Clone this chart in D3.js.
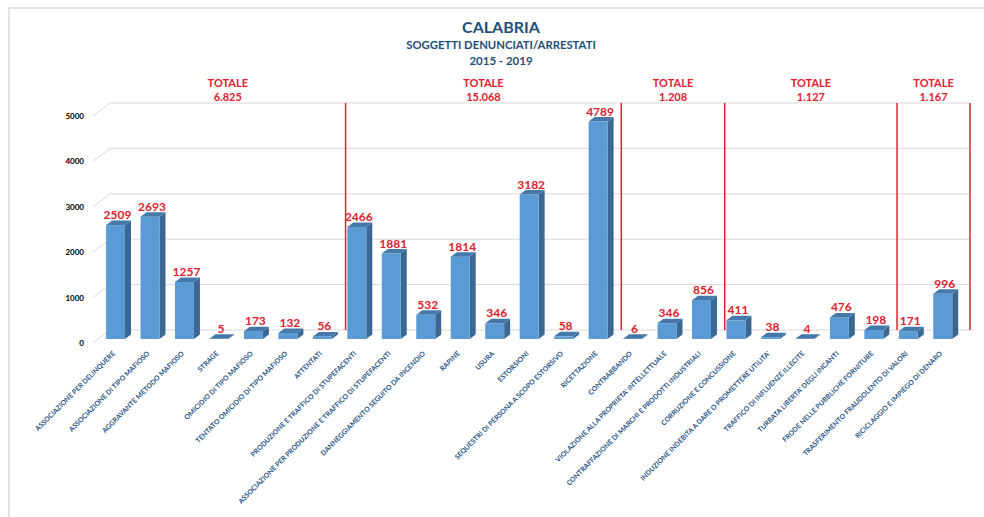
<!DOCTYPE html>
<html><head><meta charset="utf-8">
<script src="https://cdn.jsdelivr.net/npm/d3@7"></script>
<style>body{margin:0;background:#fff}svg{display:block}text{font-family:Lato,"Open Sans",sans-serif}</style>
</head><body>
<script>
const categories = [
 "ASSOCIAZIONE PER DELINQUERE","ASSOCIAZIONE DI TIPO MAFIOSO","AGGRAVANTE METODO MAFIOSO","STRAGE",
 "OMICIDIO DI TIPO MAFIOSO","TENTATO OMICIDIO DI TIPO MAFIOSO","ATTENTATI",
 "PRODUZIONE E TRAFFICO DI STUPEFACENTI","ASSOCIAZIONE PER PRODUZIONE E TRAFFICO DI STUPEFACENTI",
 "DANNEGGIAMENTO SEGUITO DA INCENDIO","RAPINE","USURA","ESTORSIONI","SEQUESTRI DI PERSONA A SCOPO ESTORSIVO","RICETTAZIONE",
 "CONTRABBANDO","VIOLAZIONE ALLA PROPRIETA' INTELLETTUALE","CONTRAFFAZIONE DI MARCHI E PRODOTTI INDUSTRIALI",
 "CORRUZIONE E CONCUSSIONE","INDUZIONE INDEBITA A DARE O PROMETTERE UTILITA'","TRAFFICO DI INFLUENZE ILLECITE",
 "TURBATA LIBERTA' DEGLI INCANTI","FRODE NELLE PUBBLICHE FORNITURE",
 "TRASFERIMENTO FRAUDOLENTO DI VALORI","RICICLAGGIO E IMPIEGO DI DENARO"
];
const values = [2509,2693,1257,5,173,132,56, 2466,1881,532,1814,346,3182,58,4789, 6,346,856, 411,38,4,476,198, 171,996];
const groupSizes = [7,8,3,5,2];
const groupTotals = ["6.825","15.068","1.208","1.127","1.167"];
const yTicks = [0,1000,2000,3000,4000,5000];
const titleLines = ["CALABRIA","SOGGETTI DENUNCIATI/ARRESTATI","2015 - 2019"];

const W=984,H=517;
const svg=d3.select("body").append("svg").attr("width",W).attr("height",H);
// frame
svg.append("rect").attr("x",9).attr("y",8).attr("width",W).attr("height",H).attr("fill","none").attr("stroke","#D9D9D9").attr("stroke-width",1.5);

const x=d3.scaleBand().domain(categories).range([98.3,960]).paddingInner(0.45).paddingOuter(0.225);
const y=d3.scaleLinear().domain([0,5000]).range([339,112]);
const bw=x.bandwidth();
const wallDx=17, backDy=9, frontDy=4;
const gridL=110, gridR=970;
const ddx=6, ddy=4.5; // bar depth

// gridlines
const g=svg.append("g");
yTicks.forEach(v=>{
  const yb=y(v)-backDy;
  g.append("line").attr("x1",gridL).attr("x2",gridR).attr("y1",yb).attr("y2",yb).attr("stroke","#D9D9D9").attr("stroke-width",1);
  g.append("line").attr("x1",gridL-wallDx).attr("y1",y(v)+frontDy).attr("x2",gridL).attr("y2",yb).attr("stroke","#D9D9D9").attr("stroke-width",1);
  svg.append("text").attr("x",84).attr("y",y(v)+frontDy+3).attr("text-anchor","end")
    .attr("font-size",8).attr("font-weight","bold").attr("fill","#000").text(v);
});

// separators & totals
const red="#E0202E";
let idx=0; const seps=[gridL];
groupSizes.forEach((n,gi)=>{
  idx+=n;
  let sx;
  if(idx<categories.length){
    sx=(x(categories[idx-1])+bw+x(categories[idx]))/2+6;
  } else sx=gridR;
  seps.push(sx);
  svg.append("line").attr("x1",sx).attr("x2",sx).attr("y1",y(5000)-backDy).attr("y2",y(0)-backDy)
    .attr("stroke",red).attr("stroke-width",1.5);
});
groupTotals.forEach((t,gi)=>{
  const cx=(seps[gi]+seps[gi+1])/2;
  svg.append("text").attr("x",cx).attr("y",87).attr("text-anchor","middle").attr("font-size",11).attr("font-weight","bold").attr("fill",red).text("TOTALE");
  svg.append("text").attr("x",cx).attr("y",101).attr("text-anchor","middle").attr("font-size",11).attr("font-weight","bold").attr("fill",red).text(t);
});

// bars
const bars=svg.append("g");
categories.forEach((c,i)=>{
  const v=values[i], x0=x(c), yt=y(v), yb=y(0);
  // side
  bars.append("path").attr("d",`M${x0+bw},${yb}L${x0+bw+ddx},${yb-ddy}L${x0+bw+ddx},${yt-ddy}L${x0+bw},${yt}Z`).attr("fill","#3A6892");
  // front
  bars.append("rect").attr("x",x0).attr("y",yt).attr("width",bw).attr("height",Math.max(0,yb-yt)).attr("fill","#5B9BD5");
  // top
  bars.append("path").attr("d",`M${x0},${yt}L${x0+ddx},${yt-ddy}L${x0+bw+ddx},${yt-ddy}L${x0+bw},${yt}Z`).attr("fill","#4679AA");
  // value label
  svg.append("text").attr("x",x0+bw/2+2).attr("y",yt-ddy-1.5).attr("text-anchor","middle")
    .attr("font-size",12).attr("font-weight","bold").attr("fill",red).text(v);
  // category label
  svg.append("text").attr("transform",`translate(${x0+bw/2},354) rotate(-45)`).attr("text-anchor","end")
    .attr("font-size",6.9).attr("font-weight","bold").attr("fill","#23507F").text(c);
});

// titles
const tc=501;
svg.append("text").attr("x",tc).attr("y",33).attr("text-anchor","middle").attr("font-size",16).attr("font-weight","bold").attr("fill","#1F4E79").text(titleLines[0]);
svg.append("text").attr("x",tc).attr("y",49).attr("text-anchor","middle").attr("font-size",11.3).attr("font-weight","bold").attr("fill","#1F4E79").text(titleLines[1]);
svg.append("text").attr("x",tc).attr("y",65).attr("text-anchor","middle").attr("font-size",11.5).attr("font-weight","bold").attr("fill","#1F4E79").text(titleLines[2]);
</script>
</body></html>
